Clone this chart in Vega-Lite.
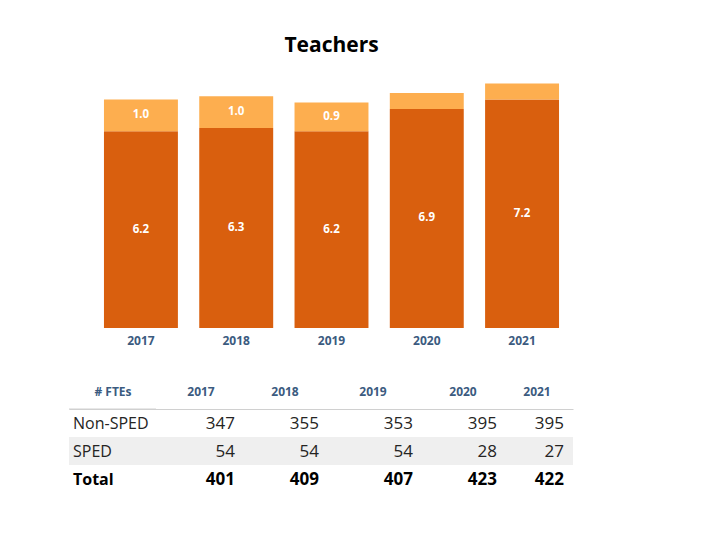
{
  "$schema": "https://vega.github.io/schema/vega-lite/v6.json",
  "background": "white",
  "padding": {"left": 68, "top": 35, "right": 5, "bottom": 5},
  "config": {"view": {"stroke": null}, "font": "Open Sans"},
  "datasets": {
    "bars": [
      {"year": "2017", "category": "Non-SPED", "value": 6.2},
      {"year": "2017", "category": "SPED", "value": 1.0},
      {"year": "2018", "category": "Non-SPED", "value": 6.3},
      {"year": "2018", "category": "SPED", "value": 1.0},
      {"year": "2019", "category": "Non-SPED", "value": 6.2},
      {"year": "2019", "category": "SPED", "value": 0.9},
      {"year": "2020", "category": "Non-SPED", "value": 6.9},
      {"year": "2020", "category": "SPED", "value": 0.5},
      {"year": "2021", "category": "Non-SPED", "value": 7.2},
      {"year": "2021", "category": "SPED", "value": 0.5}
    ],
    "table": [
      {"row": "Non-SPED", "year": "2017", "value": 347},
      {"row": "Non-SPED", "year": "2018", "value": 355},
      {"row": "Non-SPED", "year": "2019", "value": 353},
      {"row": "Non-SPED", "year": "2020", "value": 395},
      {"row": "Non-SPED", "year": "2021", "value": 395},
      {"row": "SPED", "year": "2017", "value": 54},
      {"row": "SPED", "year": "2018", "value": 54},
      {"row": "SPED", "year": "2019", "value": 54},
      {"row": "SPED", "year": "2020", "value": 28},
      {"row": "SPED", "year": "2021", "value": 27},
      {"row": "Total", "year": "2017", "value": 401},
      {"row": "Total", "year": "2018", "value": 409},
      {"row": "Total", "year": "2019", "value": 407},
      {"row": "Total", "year": "2020", "value": 423},
      {"row": "Total", "year": "2021", "value": 422}
    ],
    "rows": [
      {"row": "Non-SPED", "col": "# FTEs"},
      {"row": "SPED", "col": "# FTEs"},
      {"row": "Total", "col": "# FTEs"}
    ]
  },
  "spacing": 39,
  "vconcat": [
    {
      "title": {"text": "Teachers", "fontSize": 21, "fontWeight": "bold", "color": "#000000", "offset": 18, "font": "Open Sans"},
      "width": 525,
      "height": 254,
      "data": {"name": "bars"},
      "transform": [
        {"stack": "value", "groupby": ["year"], "sort": [{"field": "category", "order": "ascending"}], "as": ["v0", "v1"]},
        {"calculate": "(datum.v0 + datum.v1) / 2", "as": "vmid"}
      ],
      "encoding": {
        "x": {
          "field": "year", "type": "nominal",
          "scale": {"paddingInner": 0.224, "paddingOuter": 0.367},
          "axis": {"title": null, "domain": false, "ticks": false, "labelAngle": 0, "labelFontWeight": "bold", "labelFontSize": 12, "labelColor": "#3b5b7f", "labelPadding": 7}
        }
      },
      "layer": [
        {
          "mark": {"type": "bar"},
          "encoding": {
            "y": {"field": "v0", "type": "quantitative", "scale": {"domain": [0, 8], "nice": false}, "axis": null},
            "y2": {"field": "v1"},
            "color": {"field": "category", "type": "nominal", "scale": {"domain": ["Non-SPED", "SPED"], "range": ["#D95F0E", "#FDAE4F"]}, "legend": null}
          }
        },
        {
          "transform": [{"filter": "datum.value >= 0.8"}],
          "mark": {"type": "text", "color": "white", "fontWeight": "bold", "fontSize": 11.5},
          "encoding": {
            "y": {"field": "vmid", "type": "quantitative"},
            "text": {"field": "value", "type": "quantitative", "format": ".1f"}
          }
        }
      ]
    },
    {
      "width": 504,
      "height": 84,
      "layer": [
        {
          "data": {"values": [{"row": "SPED"}]},
          "mark": {"type": "rect", "color": "#efefef"},
          "encoding": {
            "x": {"value": 0},
            "x2": {"value": "width"},
            "y": {"field": "row", "type": "nominal"}
          }
        },
        {
          "data": {"values": [{"col": "2017"}]},
          "mark": {"type": "rule", "color": "#d0d0d0", "strokeWidth": 1, "xOffset": 3},
          "encoding": {
            "x": {"field": "col", "type": "nominal", "bandPosition": 0}
          }
        },
        {
          "data": {"name": "table"},
          "mark": {
            "type": "text", "align": "right", "dy": 1, "fontSize": 17,
            "dx": {"expr": "datum.year === '2019' || datum.year === '2020' ? 8 : datum.year === '2021' ? -9 : -2"},
            "fontWeight": {"expr": "datum.row === 'Total' ? 'bold' : 'normal'"},
            "color": {"expr": "datum.row === 'Total' ? '#000000' : '#252423'"}
          },
          "encoding": {
            "x": {"field": "year", "type": "nominal", "bandPosition": 1},
            "y": {"field": "row", "type": "nominal"},
            "text": {"field": "value", "type": "quantitative"}
          }
        },
        {
          "data": {"name": "rows"},
          "mark": {
            "type": "text", "align": "left", "dx": 4, "dy": 1, "fontSize": 16,
            "fontWeight": {"expr": "datum.row === 'Total' ? 'bold' : 'normal'"},
            "color": {"expr": "datum.row === 'Total' ? '#000000' : '#252423'"}
          },
          "encoding": {
            "x": {"field": "col", "type": "nominal", "bandPosition": 0},
            "y": {"field": "row", "type": "nominal"},
            "text": {"field": "row", "type": "nominal"}
          }
        }
      ],
      "resolve": {"scale": {"x": "shared", "y": "shared"}},
      "encoding": {
        "x": {
          "field": "col", "type": "nominal",
          "scale": {"domain": ["# FTEs", "2017", "2018", "2019", "2020", "2021"], "paddingInner": 0, "paddingOuter": 0},
          "axis": {
            "orient": "top", "title": null, "ticks": false, "domain": true, "domainColor": "#d0d0d0", "labelAngle": 0,
            "labelFontWeight": "bold", "labelFontSize": 12, "labelColor": "#3b5b7f", "labelPadding": 11,
            "labelOffset": {"condition": [{"test": "datum.value === '2020'", "value": 16}, {"test": "datum.value === '2019'", "value": 10}, {"test": "datum.value === '# FTEs'", "value": 2}], "value": 6}
          }
        },
        "y": {
          "field": "row", "type": "nominal",
          "scale": {"domain": ["Non-SPED", "SPED", "Total"], "paddingInner": 0, "paddingOuter": 0},
          "axis": null
        }
      }
    }
  ]
}
